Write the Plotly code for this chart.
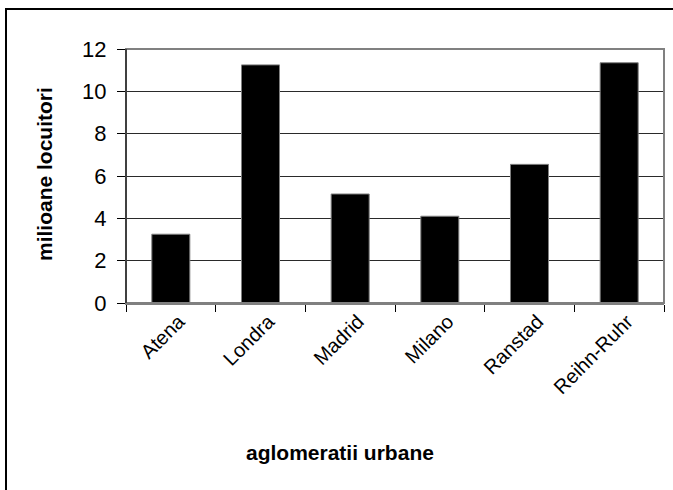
import plotly.graph_objects as go

categories = ["Atena", "Londra", "Madrid", "Milano", "Ranstad", "Reihn-Ruhr"]
values = [3.25, 11.25, 5.15, 4.1, 6.55, 11.35]
y_ticks = [0, 2, 4, 6, 8, 10, 12]

W, H = 673, 490
L, R, T, B = 126, 9, 49, 187
pw, ph = W - L - R, H - T - B

def px(x):
    return (x - L) / pw

def py(y):
    return (H - B - y) / ph

FONT = "Liberation Sans, Arial"

fig = go.Figure(go.Bar(
    x=categories, y=values,
    marker=dict(color="black", line=dict(color="#808080", width=1)),
))

fig.update_layout(
    width=W, height=H,
    margin=dict(l=L, r=R, t=T, b=B),
    paper_bgcolor="white", plot_bgcolor="white",
    bargap=0.576,
    showlegend=False,
    font=dict(family=FONT, color="black"),
    xaxis=dict(
        type="category", tickangle=-45, tickfont=dict(size=20),
        ticks="outside", tickson="boundaries", ticklen=7, tickcolor="black",
        ticklabelshift=8, ticklabelstandoff=-3,
        showline=True, linecolor="#808080", linewidth=2,
        showgrid=False,
    ),
    yaxis=dict(
        range=[0, 12], tickvals=y_ticks, tickfont=dict(size=22),
        ticks="outside", ticklen=8, tickcolor="black",
        ticklabelstandoff=6,
        showline=True, linecolor="black", linewidth=1,
        showgrid=True, gridcolor="#2a2a2a", gridwidth=1,
        zeroline=False,
    ),
    annotations=[
        dict(
            text="<b>aglomeratii urbane</b>", x=px(340), y=py(453),
            xref="paper", yref="paper", showarrow=False,
            font=dict(size=21), xanchor="center", yanchor="middle",
        ),
        dict(
            text="<b>milioane locuitori</b>", x=px(44), y=py(174),
            xref="paper", yref="paper", showarrow=False, textangle=-90,
            font=dict(size=21), xanchor="center", yanchor="middle",
        ),
    ],
    shapes=[
        dict(
            type="rect", xref="paper", yref="paper",
            x0=0, x1=1, y0=0, y1=1,
            line=dict(color="#808080", width=2), fillcolor="rgba(0,0,0,0)",
            layer="above",
        ),
        dict(
            type="line", xref="paper", yref="paper",
            x0=0, x1=0, y0=0, y1=1,
            line=dict(color="black", width=1), layer="above",
        ),
        dict(
            type="rect", xref="paper", yref="paper",
            x0=px(6), x1=px(690), y0=py(510), y1=py(9),
            line=dict(color="black", width=2), fillcolor="rgba(0,0,0,0)",
        ),
    ],
)

fig.write_html(
    "out.html",
    config={"displayModeBar": False},
    post_script="document.body.style.margin='0';",
)
